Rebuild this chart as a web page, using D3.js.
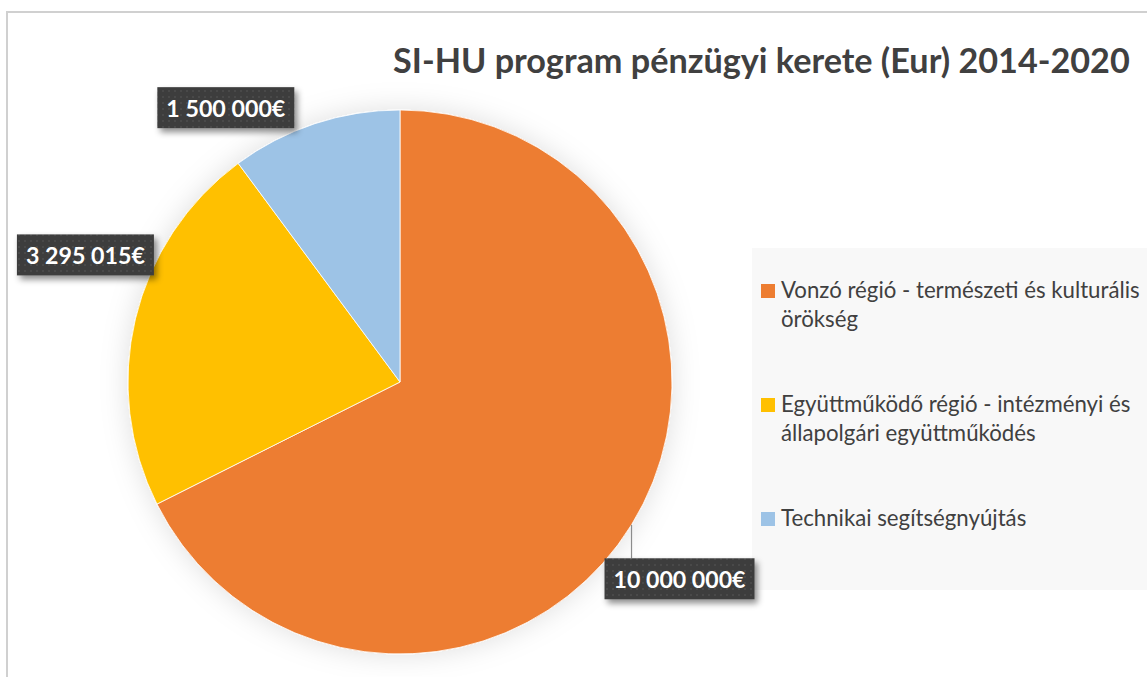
<!DOCTYPE html>
<html>
<head>
<meta charset="utf-8">
<script src="https://cdn.jsdelivr.net/npm/d3@7"></script>
<style>
  html, body { margin: 0; padding: 0; background: #fff; }
  svg { display: block; font-family: Lato, "Open Sans", "DejaVu Sans", sans-serif; }
</style>
</head>
<body>
<svg width="1147" height="677"></svg>
<script>
// data
const categories = [
  "Vonzó régió - természeti és kulturális örökség",
  "Együttműködő régió - intézményi és állapolgári együttműködés",
  "Technikai segítségnyújtás"
];
const legendLines = [
  ["Vonzó régió - természeti és kulturális", "örökség"],
  ["Együttműködő régió - intézményi és", "állapolgári együttműködés"],
  ["Technikai segítségnyújtás"]
];
const values = [10000000, 3295015, 1500000];
const valueLabels = ["10 000 000€", "3 295 015€", "1 500 000€"];
const colors = ["#ED7D31", "#FFC000", "#9DC3E6"];
const title = "SI-HU program pénzügyi kerete (Eur) 2014-2020";

const svg = d3.select("svg");
const W = 1147, H = 677;
const cx = 400, cy = 382, R = 272;

// shrink/grow a text node until it spans the wanted width
const fitFont = (sel, target, base) => {
  sel.style("font-size", base + "px");
  const w = sel.node().getComputedTextLength();
  sel.style("font-size", (base * target / w) + "px");
};

const defs = svg.append("defs");
const pieShadow = defs.append("filter").attr("id", "pieShadow")
  .attr("x", "-20%").attr("y", "-20%").attr("width", "140%").attr("height", "140%");
pieShadow.append("feDropShadow").attr("dx", 0).attr("dy", 0)
  .attr("stdDeviation", 14).attr("flood-color", "#000").attr("flood-opacity", 0.13);

const lblShadow = defs.append("filter").attr("id", "lblShadow")
  .attr("x", "-20%").attr("y", "-30%").attr("width", "140%").attr("height", "170%");
lblShadow.append("feDropShadow").attr("dx", 3).attr("dy", 4)
  .attr("stdDeviation", 3).attr("flood-color", "#000").attr("flood-opacity", 0.45);

// dotted texture of the data label boxes
const pat = defs.append("pattern").attr("id", "dots")
  .attr("width", 6).attr("height", 6).attr("patternUnits", "userSpaceOnUse");
pat.append("rect").attr("width", 6).attr("height", 6).attr("fill", "#3c3c3c");
pat.append("circle").attr("cx", 3).attr("cy", 3).attr("r", 1.3).attr("fill", "#4a4a4a");

// chart area border
svg.append("rect")
  .attr("x", 7).attr("y", 12).attr("width", W + 20).attr("height", H + 20)
  .attr("fill", "#fff").attr("stroke", "#d0d0d0").attr("stroke-width", 2);

// title
const t = svg.append("text")
  .attr("x", 393).attr("y", 73)
  .attr("fill", "#404040").attr("font-weight", "bold")
  .text(title);
fitFont(t, 737, 30);

// legend background
svg.append("rect")
  .attr("x", 752).attr("y", 248).attr("width", W - 752 + 10).attr("height", 342)
  .attr("fill", "#f8f8f8");

// pie
const pie = d3.pie().sort(null).value(d => d);
const arcs = pie(values);
const arc = d3.arc().innerRadius(0).outerRadius(R);

const g = svg.append("g").attr("transform", `translate(${cx},${cy})`);
g.append("g").attr("filter", "url(#pieShadow)")
  .selectAll("path").data(arcs).enter().append("path")
    .attr("d", arc)
    .attr("fill", (d, i) => colors[i])
    .attr("stroke", "#fff").attr("stroke-width", 0.8);

// data labels: anchored on the outer edge at each slice's mid angle, then pushed out
const labelOffset = [[48, 54], [-50, -64], [-89, -16]];
const edgePoint = d => {
  const a = (d.startAngle + d.endAngle) / 2;
  return [Math.sin(a) * R, -Math.cos(a) * R];
};

arcs.forEach((d, i) => {
  const [px, py] = edgePoint(d);
  const lx = px + labelOffset[i][0], ly = py + labelOffset[i][1];
  const lg = g.append("g");
  const txt = lg.append("text")
    .attr("x", lx).attr("y", ly)
    .attr("text-anchor", "middle").attr("dominant-baseline", "central")
    .attr("fill", "#fff").attr("font-weight", "bold")
    .text(valueLabels[i]);
  const tw = { 0: 132, 1: 119, 2: 119 }[i];
  fitFont(txt, tw, 20);
  const bw = tw + 18, bh = 41;
  // leader line for labels that sit away from their slice
  if (i === 0) {
    g.insert("line", () => lg.node())
      .attr("x1", px).attr("y1", py)
      .attr("x2", px).attr("y2", ly - bh / 2)
      .attr("stroke", "#8c8c8c").attr("stroke-width", 1.2);
  }
  lg.insert("rect", "text")
    .attr("x", lx - bw / 2).attr("y", ly - bh / 2)
    .attr("width", bw).attr("height", bh)
    .attr("fill", "url(#dots)")
    .attr("filter", "url(#lblShadow)");
});

// legend
const legendTop = [284, 398, 512];
const leg = svg.append("g");
legendLines.forEach((lines, i) => {
  leg.append("rect")
    .attr("x", 761).attr("y", legendTop[i])
    .attr("width", 14).attr("height", 14)
    .attr("fill", colors[i]);
  lines.forEach((line, j) => {
    leg.append("text")
      .attr("x", 781).attr("y", legendTop[i] + 14 + j * 29)
      .attr("fill", "#404040")
      .text(line);
  });
});
// size legend font so the longest line spans like the reference
const first = leg.selectAll("text").filter((d, k) => k === 0);
first.style("font-size", "20px");
const k = 359 / first.node().getComputedTextLength();
leg.selectAll("text").style("font-size", (20 * k) + "px");
</script>
</body>
</html>
